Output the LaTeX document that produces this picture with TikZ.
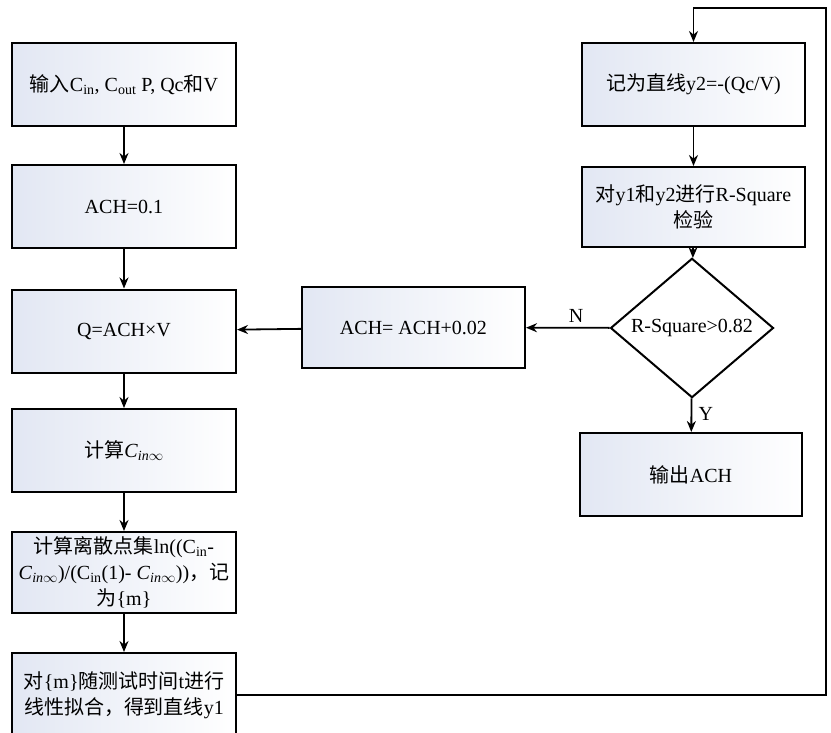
\documentclass[tikz,border=0pt]{standalone}
\usepackage{fontspec}
\setmainfont{Liberation Serif}
\newfontfamily\cjk{Noto Sans CJK SC}
\usetikzlibrary{shapes.geometric,arrows.meta}
\newcommand{\zh}[1]{{\cjk #1}}
\newcommand{\cinf}{\textit{C}\textsubscript{\textit{in}$\infty$}}
\definecolor{boxfill}{RGB}{226,231,243}

\tikzset{
  flowbox/.style={draw,line width=2pt,minimum width=224pt,minimum height=83pt,
    inner sep=2pt,align=center,left color=boxfill,right color=white},
  decbox/.style={draw,diamond,line width=2pt,minimum width=163pt,
    minimum height=120pt,inner sep=0pt,fill=white},
  flowline/.style={line width=1.8pt,->}
}

\begin{document}
\begin{tikzpicture}[x=1pt,y=-1pt,>={Stealth[length=11pt,width=9pt]},
  font=\fontsize{20}{26}\selectfont]
\clip (0,0) rectangle (831,733);
\fill[white] (0,0) rectangle (831,733);

% left column
\node[flowbox] (input) at (124,84.5) {\zh{输入}C\textsubscript{in}, C\textsubscript{out} P, Qc\zh{和}V};
\node[flowbox] (ach0) at (124,206.5) {ACH=0.1};
\node[flowbox] (q) at (124,331) {Q=ACH×V};
\node[flowbox] (cinf) at (124,450.5) {\zh{计算}\cinf};
\node[flowbox,minimum height=81pt] (lnset) at (124,572.5)
  {\zh{计算离散点集}ln((C\textsubscript{in}-\\ \cinf)/(C\textsubscript{in}(1)- \cinf))\zh{，记}\\ \zh{为}\{m\}};
\node[flowbox,minimum height=84pt] (fit) at (124,695)
  {\zh{对}\{m\}\zh{随测试时间}t\zh{进行}\\ \zh{线性拟合，得到直线}y1};

% right column
\node[flowbox,minimum width=223pt] (y2) at (693.5,84.5) {\zh{记为直线}y2=-(Qc/V)};
\node[flowbox,minimum width=223pt,minimum height=80pt] (rtest) at (693.5,207)
  {\zh{对}y1\zh{和}y2\zh{进行}R-Square\\ \zh{检验}};
\node[decbox] (dec) at (692,328) {R-Square>0.82};
\node[flowbox,minimum width=222pt] (out) at (691,474.5) {\zh{输出}ACH};
\node[flowbox,minimum width=223pt,minimum height=81pt] (inc) at (413.5,327.5) {ACH= ACH+0.02};

% connectors
\draw[flowline] (input) -- (ach0);
\draw[flowline] (ach0) -- (q);
\draw[flowline] (q) -- (cinf);
\draw[flowline] (cinf) -- (lnset);
\draw[flowline] (lnset) -- (fit);
\coordinate (corner) at (826,8);
\draw[flowline] (fit.east) -| (corner) -| (y2.north);
\draw[flowline] (y2) -- (rtest);
\draw[flowline] (rtest) -- (dec);
\draw[flowline] (dec) -- node[pos=0.45,right=3pt] (ylab) {Y} (out);
\draw[flowline] (dec) -- node[pos=0.4,above=1pt] (nlab) {N} (inc);
\draw[flowline] (inc) -- (q);
\end{tikzpicture}
\end{document}
